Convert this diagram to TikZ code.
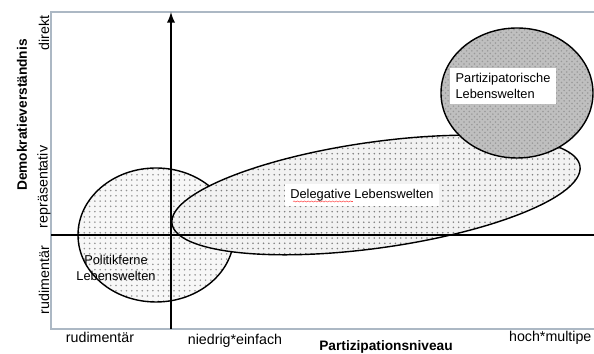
\documentclass[tikz,border=0pt]{standalone}
\usepackage{fontspec}
\setmainfont{Liberation Sans}
\usetikzlibrary{patterns,decorations.pathmorphing}

\tikzset{
    lebenswelt/.style={draw=black, line width=0.8pt},
    achse/.style={draw=black, line width=1.1pt},
    beschriftung/.style={font=\fontsize{8.1}{9.5}\selectfont, inner sep=1pt},
    titel/.style={font=\fontsize{7.8}{9.4}\selectfont\bfseries, inner sep=1pt},
    weissbox/.style={fill=white, inner sep=3pt, font=\fontsize{7.3}{9}\selectfont}
}

\begin{document}
\begin{tikzpicture}
    % Bounding box of the reference (594 x 354 px, 50 px = 1 cm)
    \useasboundingbox (0,0) rectangle (11.88,7.08);

    % Frame of the diagram
    \draw[color={rgb,255:red,172;green,184;blue,196}, line width=0.6pt]
        (11.95,6.84) -- (1.02,6.84) -- (1.02,0.5) -- (11.95,0.5);

    % Politikferne Lebenswelten
    \fill[gray!6] (3.12,2.38) ellipse (1.56 and 1.34);
    \fill[pattern=dots, pattern color=gray!85] (3.12,2.38) ellipse (1.56 and 1.34);
    \draw[lebenswelt] (3.12,2.38) ellipse (1.56 and 1.34);

    % Delegative Lebenswelten
    \fill[white, rotate around={8:(7.52,3.18)}] (7.52,3.18) ellipse (4.12 and 1.06);
    \fill[gray!10, rotate around={8:(7.52,3.18)}] (7.52,3.18) ellipse (4.12 and 1.06);
    \fill[pattern=dots, pattern color=gray, rotate around={8:(7.52,3.18)}] (7.52,3.18) ellipse (4.12 and 1.06);
    \draw[lebenswelt, rotate around={8:(7.52,3.18)}] (7.52,3.18) ellipse (4.12 and 1.06);

    % Partizipatorische Lebenswelten
    \fill[gray!50] (10.34,5.22) ellipse (1.52 and 1.3);
    \fill[pattern=crosshatch dots, pattern color=gray!80] (10.34,5.22) ellipse (1.52 and 1.3);
    \draw[lebenswelt] (10.34,5.22) ellipse (1.52 and 1.3);

    % Axes
    \draw[achse, -latex] (3.42,0.5) -- (3.42,6.84);
    \draw[achse] (1.02,2.38) -- (11.95,2.38);

    % Labels of the groups
    \node[weissbox, fill=none, align=center] (politikfern) at (2.32,1.72) {Politikferne\\Lebenswelten};
    \node[weissbox] (delegativ) at (7.24,3.18) {Delegative Lebenswelten};
    \node[weissbox, align=left] (partizipativ) at (10.06,5.36) {Partizipatorische\\Lebenswelten};
    \draw[red!70, line width=0.3pt, decorate, decoration={snake, amplitude=0.3pt, segment length=2pt}]
        (5.86,3.05) -- (7.06,3.05);

    % Vertical axis labels
    \node[titel, rotate=90] (demokratie) at (0.44,4.78) {Demokratieverständnis};
    \node[beschriftung, rotate=90] (direkt) at (0.88,6.42) {direkt};
    \node[beschriftung, rotate=90] (repraesentativ) at (0.88,3.34) {repräsentativ};
    \node[beschriftung, rotate=90] (rudimentaerY) at (0.88,1.48) {rudimentär};

    % Horizontal axis labels
    \node[beschriftung] (rudimentaerX) at (2.0,0.33) {rudimentär};
    \node[beschriftung] (niedrig) at (4.7,0.26) {niedrig*einfach};
    \node[titel] (partizipation) at (7.72,0.14) {Partizipationsniveau};
    \node[beschriftung, anchor=west] (hoch) at (10.14,0.32) {hoch*multipe};
\end{tikzpicture}
\end{document}
